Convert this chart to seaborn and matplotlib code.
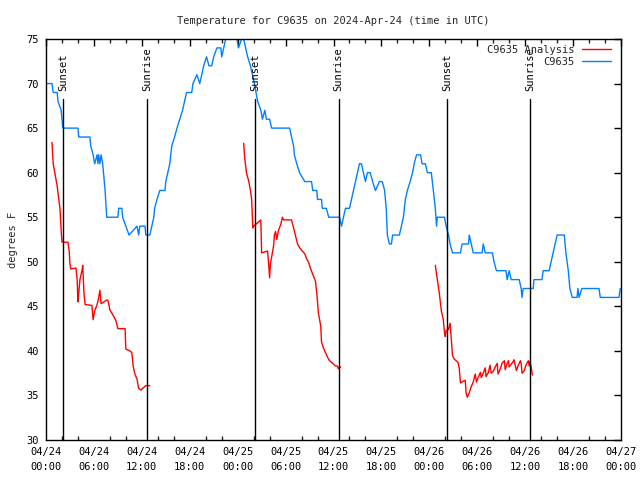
import pandas as pd
import numpy as np
import matplotlib
matplotlib.use("Agg")
import matplotlib.pyplot as plt
import matplotlib.dates as mdates
import matplotlib.transforms as mtransforms
from matplotlib.lines import Line2D
import seaborn as sns

# hours since 2024-04-24 00:00 UTC, observed temperature (F)
obs_hours = [0.0, 0.75, 0.9, 1.4, 1.5, 1.9, 2.0, 2.1, 4.0, 4.1, 5.5, 5.6, 5.9, 6.1, 6.4, 6.5, 6.6, 6.75, 6.9, 7.1,
             7.4, 7.6, 9.0, 9.1, 9.5, 9.6, 10.0, 10.4, 11.4, 11.6, 11.75, 12.4, 12.5, 13.0, 13.25, 13.5, 13.6, 13.9,
             14.25, 14.9, 15.0, 15.25, 15.5, 15.75, 16.1, 16.4, 16.75, 17.1, 17.6, 18.25, 18.4, 18.9, 19.25, 19.5,
             19.75, 20.1, 20.4, 20.75, 21.0, 21.4, 21.9, 22.0, 22.25, 22.5, 22.9, 23.6, 23.9, 24.1, 24.5, 24.75,
             25.0, 25.25, 25.6, 26.1, 26.5, 26.9, 27.1, 27.4, 27.6, 28.0, 28.25, 30.5, 30.75, 31.0, 31.1, 31.4,
             31.75, 32.4, 33.25, 33.4, 33.9, 34.0, 34.5, 34.6, 35.1, 35.4, 36.75, 37.0, 37.25, 37.5, 38.0, 38.25,
             38.5, 38.75, 39.0, 39.25, 39.5, 39.75, 40.0, 40.25, 40.6, 40.9, 41.25, 41.75, 42.1, 42.4, 42.6, 42.75,
             43.0, 43.25, 43.4, 44.25, 44.5, 44.75, 45.0, 45.25, 45.6, 45.9, 46.1, 46.4, 46.9, 47.1, 47.5, 47.75,
             48.25, 48.5, 48.75, 48.9, 49.0, 49.9, 50.1, 50.4, 50.6, 50.9, 51.9, 52.1, 52.9, 53.0, 53.25, 53.5,
             54.6, 54.75, 55.0, 55.9, 56.1, 56.4, 57.6, 57.75, 58.0, 58.25, 59.25, 59.5, 59.6, 59.75, 61.0, 61.1,
             62.1, 62.25, 63.0, 63.25, 63.5, 63.75, 64.0, 64.9, 65.1, 65.4, 65.6, 65.9, 66.5, 66.6, 66.75, 67.1,
             69.25, 69.4, 71.75, 71.9]
obs_temp = [70, 70, 69, 69, 68, 67, 66, 65, 65, 64, 64, 63, 62, 61, 62, 61, 62, 61, 62, 61,
            58, 55, 55, 56, 56, 55, 54, 53, 54, 53, 54, 54, 53, 53, 54, 55, 56, 57,
            58, 58, 59, 60, 61, 63, 64, 65, 66, 67, 69, 69, 70, 71, 70, 71,
            72, 73, 72, 72, 73, 74, 74, 73, 74, 75, 76, 76, 75, 74, 75, 75,
            74, 73, 72, 70, 68, 67, 66, 67, 66, 66, 65, 65, 64, 63, 62, 61,
            60, 59, 59, 58, 58, 57, 57, 56, 56, 55, 55, 54, 55, 56, 56, 57,
            58, 59, 60, 61, 61, 60, 59, 60, 60, 59, 58, 59, 59, 58, 56, 53,
            52, 52, 53, 53, 54, 55, 57, 58, 59, 60, 61, 62, 62, 61, 61, 60,
            60, 58, 56, 54, 55, 55, 54, 53, 52, 51, 51, 52, 52, 53, 52, 51,
            51, 52, 51, 51, 50, 49, 49, 48, 49, 48, 48, 47, 46, 47, 47, 48,
            48, 49, 49, 50, 51, 52, 53, 53, 51, 49, 47, 46, 46, 47, 46, 47,
            47, 46, 46, 47]

# analysis runs (three separate pieces)
ana1_hours = [0.75, 0.9, 1.1, 1.4, 1.6, 1.75, 1.9, 2.0, 2.75, 2.9, 3.0, 3.1, 3.75, 3.9, 4.0, 4.1, 4.25, 4.5,
              4.6, 4.75, 4.9, 5.75, 5.9, 6.1, 6.4, 6.6, 6.75, 6.9, 7.25, 7.6, 7.75, 8.0, 8.4, 8.75, 9.0, 9.9,
              10.0, 10.5, 10.75, 10.9, 11.1, 11.4, 11.6, 11.9, 12.1, 12.5, 13.0]
ana1_temp = [63.4, 61, 60, 58.5, 57, 56, 53.5, 52.2, 52.2, 51.2, 49.8, 49.2, 49.3, 48, 45.5, 46.5, 48, 49,
             49.6, 46.5, 45.2, 45.1, 43.5, 44.5, 45.2, 46, 46.8, 45.3, 45.5, 45.7, 45.7, 44.6, 44.0, 43.4, 42.5, 42.5,
             40.2, 40.0, 39.8, 38.4, 37.5, 36.8, 35.8, 35.6, 35.8, 36.1, 36.1]
ana2_hours = [24.75, 24.9, 25.1, 25.4, 25.6, 25.75, 25.9, 26.0, 26.4, 26.9, 27.0, 27.75, 27.9, 28.0, 28.1, 28.25,
              28.5, 28.6, 28.75, 28.9, 29.1, 29.4, 29.6, 29.75, 30.75, 31.0, 31.25, 31.5, 31.75, 32.1, 32.4,
              32.6, 32.9, 33.1, 33.4, 33.75, 33.9, 34.0, 34.1, 34.4, 34.5, 34.75, 35.0, 35.25, 35.5, 35.9,
              36.25, 36.5, 36.6, 36.9]
ana2_temp = [63.3, 61.5, 60, 59, 58, 57, 53.8, 54.0, 54.3, 54.7, 51.0, 51.2, 49.5, 48.2, 49.8, 50.5,
             51.8, 53.0, 53.4, 52.5, 53.5, 54.2, 55.0, 54.7, 54.7, 53.8, 52.9, 52.0, 51.6, 51.2, 50.9,
             50.4, 49.9, 49.3, 48.6, 47.8, 46.5, 45.5, 44.3, 42.8, 41.0, 40.3, 39.8, 39.3, 38.9, 38.6,
             38.3, 38.3, 38.0, 38.2]
ana3_hours = [48.75, 49.0, 49.25, 49.5, 49.75, 49.9, 50.0, 50.1, 50.4, 50.6, 50.75, 50.9, 51.1, 51.6, 51.75,
              51.9, 52.25, 52.5, 52.6, 52.75, 53.0, 53.25, 53.5, 53.75, 53.9, 54.1, 54.4, 54.5, 54.75, 55.0,
              55.1, 55.4, 55.6, 55.75, 56.0, 56.25, 56.5, 56.6, 56.9, 57.1, 57.4, 57.5, 57.75, 57.9, 58.0,
              58.25, 58.5, 58.6, 58.75, 58.9, 59.1, 59.4, 59.5, 59.6, 59.9, 60.1, 60.4, 60.5, 60.6, 60.75, 60.9]
ana3_temp = [49.6, 48.0, 46.5, 44.5, 43.5, 42.0, 41.6, 42.3, 42.4, 43.1, 41.3, 39.5, 39.1, 38.7, 38.0,
             36.4, 36.6, 36.7, 35.3, 34.8, 35.3, 36.0, 36.5, 37.4, 36.5, 37.0, 37.6, 37.0, 37.5, 38.1,
             37.1, 37.6, 38.4, 37.5, 37.7, 38.2, 38.6, 37.4, 38.0, 38.6, 38.9, 37.9, 38.6, 38.9, 38.2,
             38.5, 38.8, 39.0, 38.4, 37.8, 38.3, 38.9, 38.6, 37.5, 37.8, 38.4, 38.9, 38.3, 38.8, 38.2, 37.3]

sunsets = ["2024-04-24 02:10", "2024-04-25 02:11", "2024-04-26 02:12"]
sunrises = ["2024-04-24 12:40", "2024-04-25 12:38", "2024-04-26 12:37"]

start = pd.Timestamp("2024-04-24 00:00")
end = pd.Timestamp("2024-04-27 00:00")

df_obs = pd.DataFrame({"time": start + pd.to_timedelta(obs_hours, unit="h"), "temp": obs_temp})
parts = []
for k, (h, t) in enumerate([(ana1_hours, ana1_temp), (ana2_hours, ana2_temp), (ana3_hours, ana3_temp)]):
    parts.append(pd.DataFrame({"time": start + pd.to_timedelta(h, unit="h"), "temp": t, "run": k}))
df_ana = pd.concat(parts, ignore_index=True)

sns.set_theme(style="white")
mono = "DejaVu Sans Mono"
plt.rcParams["font.family"] = [mono, "DejaVu Sans"]
plt.rcParams["axes.linewidth"] = 1.0

red = "#ff0000"
blue = "#0080ff"

fig = plt.figure(figsize=(6.4, 4.8), dpi=100)
ax = fig.add_axes([46 / 640, 40 / 480, 575 / 640, 401 / 480])

sns.lineplot(data=df_ana, x="time", y="temp", units="run", estimator=None, sort=False,
             color=red, lw=1.0, ax=ax)
sns.lineplot(data=df_obs, x="time", y="temp", estimator=None, sort=False,
             color=blue, lw=1.0, ax=ax)

# sunrise / sunset markers
trans = mtransforms.blended_transform_factory(ax.transData, ax.transAxes)
for label, times in [("Sunset", sunsets), ("Sunrise", sunrises)]:
    for t in times:
        tt = pd.Timestamp(t)
        ax.plot([tt, tt], [0, 0.85], color="black", lw=1.0, transform=trans, clip_on=False)
        ax.text(tt, 0.87, label, rotation=90, ha="center", va="bottom", fontsize=7.5,
                transform=trans, color="black")

ax.set_xlim(start, end)
ax.set_ylim(30, 75)
ax.set_yticks(range(30, 80, 5))

ax.xaxis.set_major_locator(mdates.HourLocator(byhour=[0, 6, 12, 18]))
ax.xaxis.set_major_formatter(mdates.DateFormatter("%m/%d\n%H:%M"))
ax.xaxis.set_minor_locator(mdates.HourLocator(byhour=range(0, 24, 2)))

ax.tick_params(axis="both", which="major", direction="in", length=5, width=1, top=True, right=True,
               labelsize=7.5, colors="black", pad=5)
ax.tick_params(axis="x", which="minor", direction="in", length=3, width=1, top=True, bottom=True)
for lab in ax.get_xticklabels():
    lab.set_linespacing(1.6)
for s in ax.spines.values():
    s.set_color("black")

ax.set_xlabel("")
ax.set_ylabel("degrees F", fontsize=7.5, labelpad=6)
ax.set_title("Temperature for C9635 on 2024-Apr-24 (time in UTC)", fontsize=7.5, pad=11)

handles = [Line2D([], [], color=red, lw=1.0), Line2D([], [], color=blue, lw=1.0)]
ax.legend(handles, ["C9635 Analysis", "C9635"], loc="upper right", frameon=False, markerfirst=False,
          fontsize=7.5, handlelength=2.7, handletextpad=0.75, labelspacing=0.2,
          borderaxespad=0.6, bbox_to_anchor=(1.0, 1.011))

fig.savefig("out.png", dpi=100)
